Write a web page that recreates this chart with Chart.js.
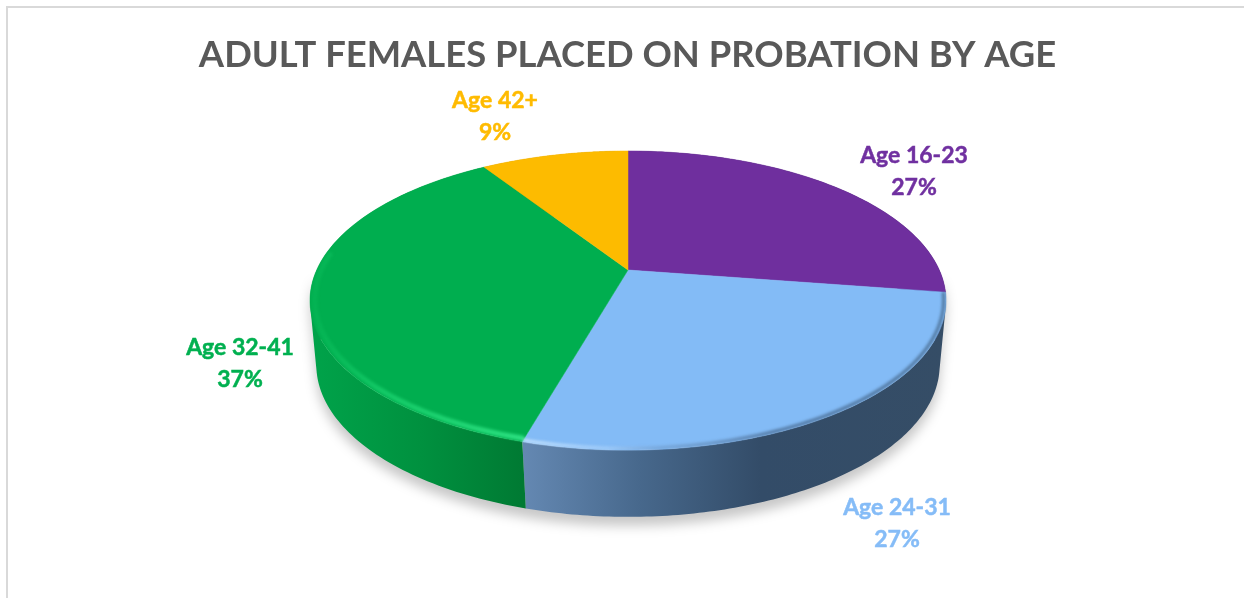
<!DOCTYPE html>
<html>
<head>
<meta charset="utf-8">
<title>Adult females placed on probation by age</title>
<script src="https://cdn.jsdelivr.net/npm/chart.js@4"></script>
<style>
    html, body { margin: 0; padding: 0; background: #fff; overflow: hidden; }
    #wrap { position: relative; width: 1244px; height: 598px; overflow: hidden; }
    #frame { position: absolute; left: 6px; top: 6px; width: 1300px; height: 591px; border-left: 2px solid #d9d9d9; border-top: 2px solid #d9d9d9; }
    canvas { position: absolute; left: 0; top: 0; }
</style>
</head>
<body>
<div id="wrap">
    <div id="frame"></div>
    <canvas id="pieChart" width="1244" height="598"></canvas>
</div>
<script>
const chartTitle = "ADULT FEMALES PLACED ON PROBATION BY AGE";
const categories = ["Age 16-23", "Age 24-31", "Age 32-41", "Age 42+"];
const shares = [27.4, 27, 36.5, 9.1];
const shareLabels = ["27%", "27%", "37%", "9%"];
const sliceColors = ["#6f2f9e", "#83bbf6", "#00ae4f", "#fdbb00"];
const labelColors = ["#7030a0", "#85bcf7", "#00b050", "#ffbb00"];

// layout of the tilted disc (perspective, so the centre is not the middle of the ellipse)
const topFace = { cx: 628, y0: 270, a: 311.3, b: 143.3, k: 0.204 };
const baseFace = { cx: 628, y0: 336, a: 306, b: 146.5, k: 0.19 };
const labelCenters = [[914, 156], [897, 508], [240, 348], [495, 101]];
const wallStops = [
    [[925, "#3a1f5c"], [946, "#2b1844"]],
    [[524, "#6488b2"], [640, "#47688c"], [760, "#334c68"], [946, "#354d66"]],
    [[310, "#00a34a"], [420, "#00913f"], [522, "#007a33"]],
    [[480, "#c99400"], [628, "#c99400"]]
];

function project(face, angle, scale = 1) {
    const u = Math.cos(angle) * scale;
    const v = Math.sin(angle) * scale;
    const w = 1 - face.k * v;
    return [face.cx + face.a * u / w, face.y0 + face.b * v / w];
}

function traceArc(ctx, face, from, to, scale = 1) {
    const steps = 90;
    for (let i = 0; i <= steps; i++) {
        const p = project(face, from + (to - from) * i / steps, scale);
        ctx.lineTo(p[0], p[1]);
    }
}

// wall as many small quads, all wound the same way, so the outline follows the tangent
function traceWall(ctx, from, to) {
    const steps = 120;
    for (let i = 0; i < steps; i++) {
        const a0 = from + (to - from) * i / steps;
        const a1 = from + (to - from) * (i + 1) / steps;
        const q = [project(topFace, a0), project(topFace, a1), project(baseFace, a1), project(baseFace, a0)];
        let area = 0;
        q.forEach((p, n) => {
            const next = q[(n + 1) % 4];
            area += p[0] * next[1] - next[0] * p[1];
        });
        if (area < 0) q.reverse();
        ctx.moveTo(q[0][0], q[0][1]);
        q.slice(1).forEach(p => ctx.lineTo(p[0], p[1]));
        ctx.closePath();
    }
}

function sideGradient(ctx, stops) {
    const first = stops[0][0];
    const last = stops[stops.length - 1][0];
    const g = ctx.createLinearGradient(first, 0, last, 0);
    stops.forEach(s => g.addColorStop((s[0] - first) / (last - first), s[1]));
    return g;
}

const pie3d = {
    id: "pie3d",
    beforeDatasetsDraw(chart) {
        const ctx = chart.ctx;
        const arcs = chart.getDatasetMeta(0).data;

        // soft shadow under the disc
        ctx.save();
        ctx.filter = "blur(6px)";
        ctx.fillStyle = "rgba(0,0,0,0.22)";
        ctx.translate(0, 9);
        ctx.beginPath();
        traceWall(ctx, 0, Math.PI);
        ctx.fill();
        ctx.restore();

        // side wall
        arcs.forEach((arc, i) => {
            ctx.beginPath();
            traceWall(ctx, arc.startAngle, arc.endAngle);
            ctx.fillStyle = sideGradient(ctx, wallStops[i]);
            ctx.fill();
        });

        // top face
        arcs.forEach((arc, i) => {
            ctx.beginPath();
            const c = project(topFace, 0, 0);
            ctx.moveTo(c[0], c[1]);
            traceArc(ctx, topFace, arc.startAngle, arc.endAngle);
            ctx.closePath();
            ctx.fillStyle = sliceColors[i];
            ctx.fill();
            ctx.strokeStyle = sliceColors[i];
            ctx.lineWidth = 0.5;
            ctx.stroke();
        });

        // bevel along the near edge, kept inside the disc
        ctx.save();
        ctx.beginPath();
        traceArc(ctx, topFace, 0, Math.PI * 2, 1.005);
        ctx.closePath();
        ctx.clip();
        ctx.filter = "blur(1.6px)";
        ctx.lineWidth = 5;
        ctx.beginPath();
        traceArc(ctx, topFace, arcs[1].endAngle, Math.PI * 1.04, 0.986);
        const gg = ctx.createLinearGradient(310, 0, 522, 0);
        gg.addColorStop(0, "rgba(20,205,105,0.15)");
        gg.addColorStop(0.35, "rgba(25,210,110,0.8)");
        gg.addColorStop(1, "rgba(45,225,130,1)");
        ctx.strokeStyle = gg;
        ctx.stroke();
        ctx.beginPath();
        traceArc(ctx, topFace, arcs[1].startAngle, arcs[1].endAngle, 0.993);
        const g = ctx.createLinearGradient(522, 0, 946, 0);
        g.addColorStop(0, "rgba(205,232,255,0.95)");
        g.addColorStop(0.2, "rgba(175,212,250,0.7)");
        g.addColorStop(0.32, "rgba(110,150,195,0.6)");
        g.addColorStop(0.6, "rgba(60,90,125,0.75)");
        g.addColorStop(1, "rgba(55,85,115,0.7)");
        ctx.strokeStyle = g;
        ctx.lineWidth = 3;
        ctx.stroke();
        ctx.restore();

        // data labels, thin stroke because Lato bold is lighter than the original face
        ctx.save();
        ctx.font = 'bold 23px Lato, "Open Sans", sans-serif';
        ctx.textAlign = "center";
        ctx.textBaseline = "middle";
        ctx.lineWidth = 0.5;
        categories.forEach((name, i) => {
            ctx.fillStyle = labelColors[i];
            ctx.strokeStyle = labelColors[i];
            ctx.fillText(name, labelCenters[i][0], labelCenters[i][1]);
            ctx.strokeText(name, labelCenters[i][0], labelCenters[i][1]);
            ctx.fillText(shareLabels[i], labelCenters[i][0], labelCenters[i][1] + 32);
            ctx.strokeText(shareLabels[i], labelCenters[i][0], labelCenters[i][1] + 32);
        });
        ctx.restore();
        return false;
    }
};

new Chart(document.getElementById("pieChart").getContext("2d"), {
    type: "pie",
    data: {
        labels: categories,
        datasets: [{ data: shares, backgroundColor: sliceColors }]
    },
    options: {
        responsive: false,
        animation: false,
        layout: { padding: { left: 11, top: 33 } },
        plugins: {
            legend: { display: false },
            tooltip: { enabled: false },
            title: {
                display: true,
                text: chartTitle,
                color: "#595959",
                font: { family: 'Lato, "Open Sans", sans-serif', size: 36.4, weight: "bold" },
                padding: 0
            }
        }
    },
    plugins: [pie3d]
});
</script>
</body>
</html>
